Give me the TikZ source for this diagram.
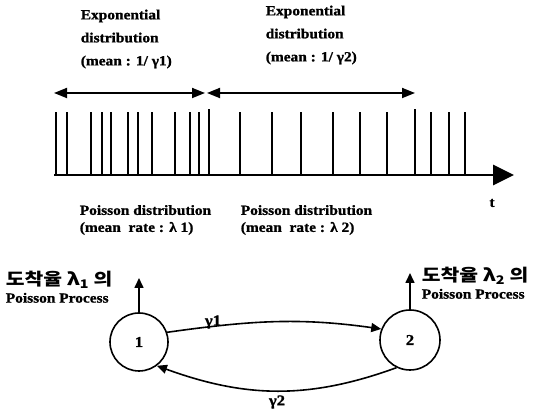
\documentclass[tikz,border=0pt]{standalone}
\usepackage{fontspec}
\setmainfont{Liberation Serif}[FakeStretch=1.1,BoldFeatures={FakeBold=1.2}]
\newfontfamily\krfont{Noto Sans CJK KR}[FakeStretch=1.2]
\usetikzlibrary{arrows.meta}

\tikzset{
  lbl/.style={font=\fontsize{14}{17}\selectfont\bfseries, align=left, inner sep=0pt},
  state/.style={circle, draw, line width=1.6pt, minimum size=58pt, inner sep=0pt,
    font=\fontsize{15}{17}\selectfont\bfseries},
  smallhead/.style={-{Triangle[length=10pt,width=9pt]}},
}

\begin{document}
\begin{tikzpicture}[x=1pt,y=1pt,line width=1.6pt]
 \useasboundingbox (0,0) rectangle (542,412);

 % exponential intervals
 \node[lbl, anchor=west, font=\fontsize{14}{23}\selectfont\bfseries] (ex1) at (80,373)
   {Exponential\\distribution\\(mean : 1/ γ1)};
 \node[lbl, anchor=west, font=\fontsize{14}{23}\selectfont\bfseries] (ex2) at (265,377)
   {Exponential\\distribution\\(mean : 1/ γ2)};

 \coordinate (e0) at (54,319);
 \coordinate (e1) at (205,319);
 \coordinate (e2) at (207,319);
 \coordinate (e3) at (415,319);
 \draw[line width=1.8pt, {Triangle[length=13pt,width=10pt]}-{Triangle[length=13pt,width=10pt]}] (e0) -- (e1);
 \draw[line width=1.8pt, {Triangle[length=13pt,width=10pt]}-{Triangle[length=13pt,width=10pt]}] (e2) -- (e3);

 % arrivals on the time axis
 \foreach \x in {56,67,91,102,111,128,138,152,175,190,199,240,272,301,333,360,387,431,449,465}
   \draw[line width=2.3pt] (\x,237) -- (\x,300);
 \foreach \x in {209,415}
   \draw[line width=2.3pt] (\x,237) -- (\x,303);

 \coordinate (t0) at (54,237);
 \coordinate (t1) at (514,237);
 \draw[line width=2.8pt, -{Triangle[length=21pt,width=20pt]}] (t0) -- (t1);
 \node[lbl] (tlab) at (492,209) {t};

 \node[lbl, anchor=west] (po1) at (79,192) {Poisson distribution\\(mean\ \ rate : λ 1)};
 \node[lbl, anchor=west] (po2) at (240,192) {Poisson distribution\\(mean\ \ rate : λ 2)};

 % two state markov chain
 \node[state] (s1) at (139,70) {1};
 \node[state, minimum size=60pt] (s2) at (410,72) {2};

 \draw[smallhead] (s1.19) to [out=8, in=172] (s2.159);
 \draw[smallhead] (s2.244) to [out=200, in=340] (s1.307);
 \node[lbl, font=\fontsize{15}{17}\selectfont\bfseries] (g1) at (213,90) {γ1};
 \node[lbl, font=\fontsize{15}{17}\selectfont\bfseries] (g2) at (277,10) {γ2};

 \coordinate (a1) at (139,134);
 \coordinate (a2) at (410,139);
 \draw[smallhead] (s1.north) -- (a1);
 \draw[smallhead] (s2.north) -- (a2);

 \node[lbl, anchor=west] (pp1) at (5,125)
   {{\krfont\bfseries\fontsize{17}{18}\selectfont 도착율 λ\textsubscript{1} 의}\\Poisson Process};
 \node[lbl, anchor=west] (pp2) at (421,129)
   {{\krfont\bfseries\fontsize{17}{18}\selectfont 도착율 λ\textsubscript{2} 의}\\Poisson Process};
\end{tikzpicture}
\end{document}
